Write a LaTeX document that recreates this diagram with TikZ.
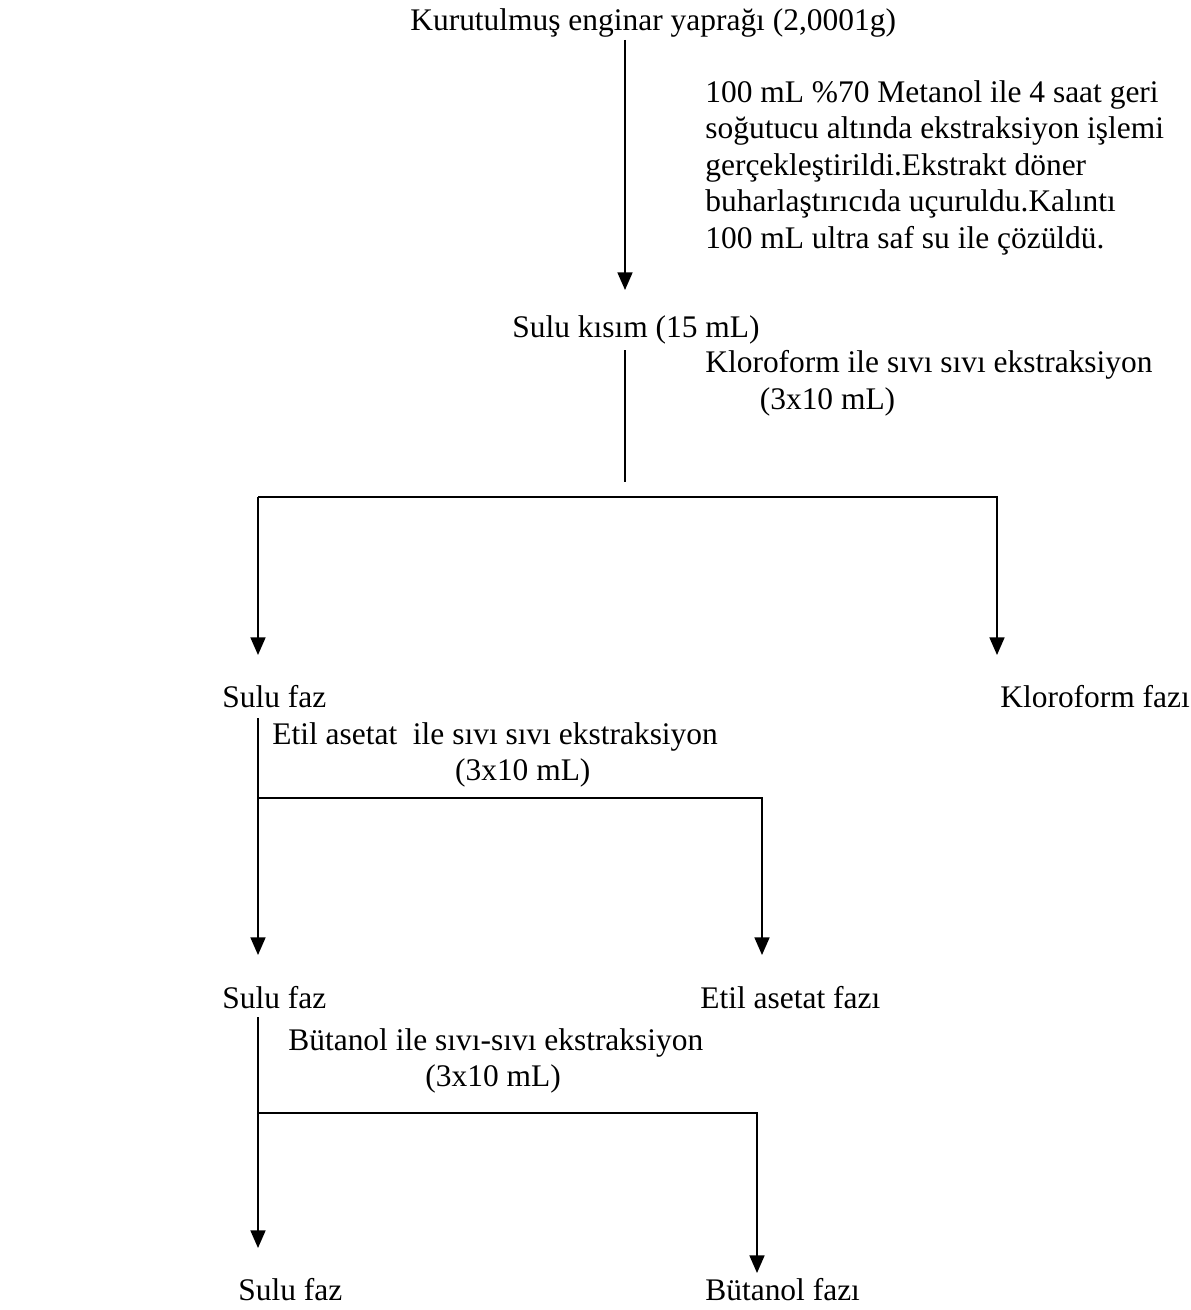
\documentclass[tikz,border=0pt]{standalone}
\usepackage{fontspec}
\setmainfont{Liberation Serif}
\usetikzlibrary{arrows.meta,positioning}

\begin{document}
\begin{tikzpicture}[
		x=0.02cm,y=-0.02cm,
		stage/.style={
			inner sep=0pt,
			anchor=base west,
			font=\fontsize{17.9pt}{20.8pt}\selectfont
		},
		note/.style={
			inner sep=0pt,
			anchor=north west,
			align=left,
			font=\fontsize{17.9pt}{20.8pt}\selectfont
		},
		arrow/.style={-{Triangle[length=10pt,width=8.5pt]},line width=1pt},
		link/.style={line width=1pt}
		]
		\useasboundingbox (0,0) rectangle (1190,1310);
		
		% maceration step
		\node[stage] (kuru) at (410,31) {Kurutulmuş enginar yaprağı (2,0001g)};
		\node[note] (metanol) at (705,80)
		{100 mL \%70 Metanol ile 4 saat geri\\
			soğutucu altında ekstraksiyon işlemi\\
			gerçekleştirildi.Ekstrakt döner\\
			buharlaştırıcıda uçuruldu.Kalıntı\\
			100 mL ultra saf su ile çözüldü.};
		\node[stage] (sulu) at (512,338) {Sulu kısım (15 mL)};
		
		\coordinate (t1) at (625,290);
		\draw[arrow,shorten <=1pt] (kuru.south -| t1) -- (t1);
		
		% chloroform step
		\node[note] (kloro) at (705,350)
		{Kloroform ile sıvı sıvı ekstraksiyon\\ \hspace*{31pt}(3x10 mL)};
		\coordinate (s1) at (625,482);
		\coordinate (b1) at (258,497);
		\coordinate (t2) at (258,655);
		\coordinate (t3) at (997,655);
		\draw[link,shorten <=3pt] (sulu.south -| s1) -- (s1);
		\draw[arrow] (b1) -- (t2);
		\draw[arrow] (b1) -| (t3);
		
		\node[stage] (faz1) at (222,707) {Sulu faz};
		\node[stage] (kfaz) at (1000,707) {Kloroform fazı};
		
		% ethyl acetate step
		\node[note] (etil) at (272,722)
		{Etil asetat\ \ ile sıvı sıvı ekstraksiyon\\ \hspace*{104pt}(3x10 mL)};
		\coordinate (b2) at (258,798);
		\coordinate (t4) at (258,955);
		\coordinate (t5) at (762,955);
		\draw[arrow,shorten <=6pt] (faz1.south -| t4) -- (t4);
		\draw[arrow] (b2) -| (t5);
		
		\node[stage] (faz2) at (222,1008) {Sulu faz};
		\node[stage] (efaz) at (700,1008) {Etil asetat fazı};
		
		% butanol step
		\node[note] (butanol) at (288,1028)
		{Bütanol ile sıvı-sıvı ekstraksiyon\\ \hspace*{78pt}(3x10 mL)};
		\coordinate (b3) at (258,1113);
		\coordinate (t6) at (258,1248);
		\coordinate (t7) at (757,1273);
		\draw[arrow,shorten <=5pt] (faz2.south -| t6) -- (t6);
		\draw[arrow] (b3) -| (t7);
		
		\node[stage] (faz3) at (238,1300) {Sulu faz};
		\node[stage] (bfaz) at (705,1300) {Bütanol fazı};
		
	\end{tikzpicture}
\end{document}
